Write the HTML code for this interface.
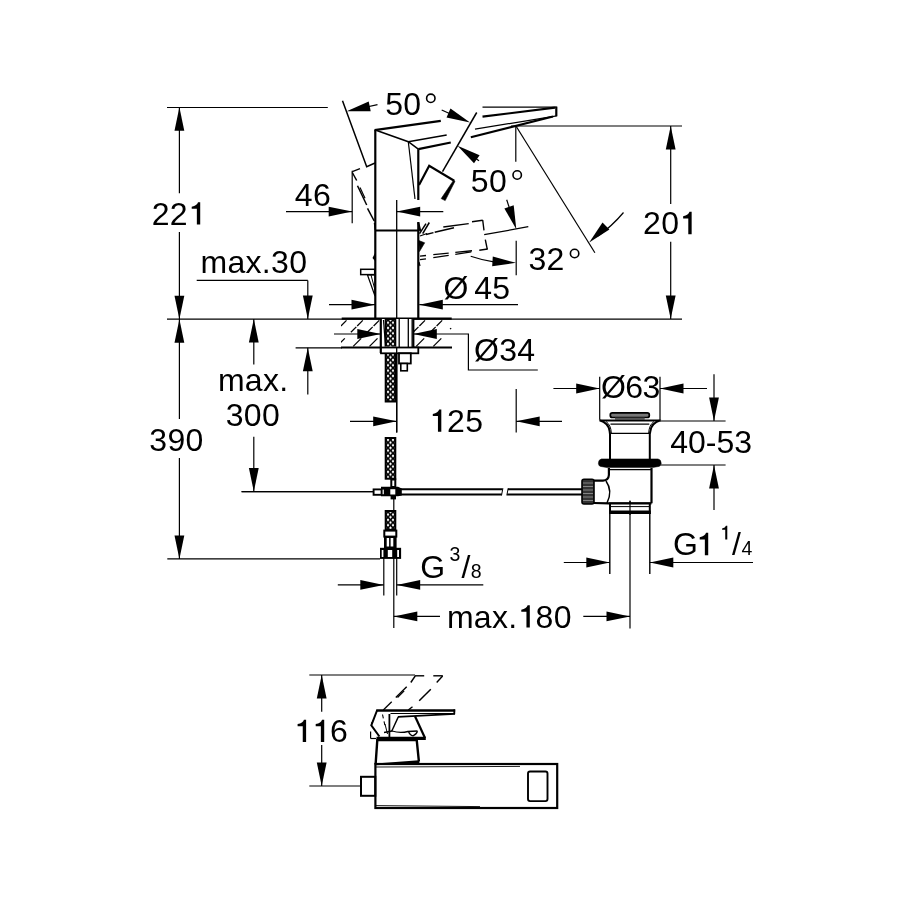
<!DOCTYPE html>
<html><head><meta charset="utf-8"><style>
html,body{margin:0;padding:0;background:#fff;}
svg{display:block;will-change:transform}
text{font-family:"Liberation Sans",sans-serif;fill:#000;stroke:none}
</style></head><body>
<svg width="900" height="900" viewBox="0 0 900 900" stroke="#000" fill="none" stroke-linecap="butt">
<rect width="900" height="900" fill="#fff" stroke="none"/>
<line x1="167.0" y1="107.5" x2="327.8" y2="107.5" stroke-width="1.2" />
<line x1="179.4" y1="107.5" x2="179.4" y2="193.3" stroke-width="1.2" />
<line x1="179.4" y1="232.0" x2="179.4" y2="418.9" stroke-width="1.2" />
<line x1="179.4" y1="458.0" x2="179.4" y2="558.9" stroke-width="1.2" />
<polygon points="179.4,107.3 184.3,130.8 174.5,130.8" fill="#000" stroke="none"/>
<polygon points="179.4,319.2 174.5,295.7 184.3,295.7" fill="#000" stroke="none"/>
<polygon points="179.4,319.2 184.3,342.7 174.5,342.7" fill="#000" stroke="none"/>
<polygon points="179.4,559.0 174.5,535.5 184.3,535.5" fill="#000" stroke="none"/>
<line x1="167.0" y1="319.2" x2="682.0" y2="319.2" stroke-width="1.2" />
<line x1="167.3" y1="558.9" x2="380.0" y2="558.9" stroke-width="1.2" />
<g class="t">
<text x="151.67" y="224.6" font-size="32" letter-spacing="0.3" >22</text>
<path d="M0.386,0 L0.386,-0.698 L0.318,-0.698 Q0.29,-0.59 0.12,-0.560 L0.12,-0.493 L0.281,-0.493 L0.281,0 Z" transform="translate(187.86,224.6) scale(32)" fill="#000" stroke="none"/>
</g>
<g class="t">
<text x="149.32" y="450.5" font-size="32" letter-spacing="0.3" >390</text>
</g>
<line x1="286.0" y1="211.6" x2="352.2" y2="211.6" stroke-width="1.2" />
<polygon points="352.2,211.6 328.7,216.5 328.7,206.7" fill="#000" stroke="none"/>
<line x1="352.2" y1="170.8" x2="352.2" y2="223.3" stroke-width="1.2" />
<polygon points="396.7,211.6 420.2,206.7 420.2,216.5" fill="#000" stroke="none"/>
<line x1="396.7" y1="211.6" x2="443.3" y2="211.6" stroke-width="1.2" />
<g class="t">
<text x="294.81" y="205.8" font-size="32" letter-spacing="0.3" >46</text>
</g>
<line x1="196.7" y1="280.4" x2="307.8" y2="280.4" stroke-width="1.2" />
<line x1="307.8" y1="280.4" x2="307.8" y2="318.9" stroke-width="1.2" />
<polygon points="307.8,318.9 302.9,295.4 312.7,295.4" fill="#000" stroke="none"/>
<polygon points="307.8,347.8 312.7,371.3 302.9,371.3" fill="#000" stroke="none"/>
<line x1="307.8" y1="347.8" x2="307.8" y2="394.4" stroke-width="1.2" />
<line x1="295.6" y1="347.8" x2="342.0" y2="347.8" stroke-width="1.2" />
<g class="t">
<text x="200.53" y="273.4" font-size="32" letter-spacing="0.3" >max.30</text>
</g>
<line x1="329.0" y1="304.7" x2="375.0" y2="304.7" stroke-width="1.2" />
<polygon points="375.0,304.7 351.5,309.6 351.5,299.8" fill="#000" stroke="none"/>
<polygon points="419.3,304.7 442.8,299.8 442.8,309.6" fill="#000" stroke="none"/>
<line x1="419.3" y1="304.7" x2="518.0" y2="304.7" stroke-width="1.2" />
<g class="t">
<text x="443.42" y="299.3" font-size="32" letter-spacing="0.3" >Ø</text>
</g>
<g class="t">
<text x="474.26" y="299.3" font-size="32" letter-spacing="0.3" >45</text>
</g>
<line x1="334.0" y1="334.0" x2="380.8" y2="334.0" stroke-width="1.2" />
<polygon points="380.8,334.0 357.3,338.9 357.3,329.1" fill="#000" stroke="none"/>
<polygon points="413.3,334.0 436.8,329.1 436.8,338.9" fill="#000" stroke="none"/>
<polyline points="413.3,334.0 468.4,334.0 468.4,370.0 537.8,370.0" stroke-width="1.2" fill="none" />
<g class="t">
<text x="473.98" y="361.3" font-size="32" letter-spacing="0.3" >Ø34</text>
</g>
<polygon points="253.8,318.9 258.7,342.4 248.9,342.4" fill="#000" stroke="none"/>
<line x1="253.8" y1="318.9" x2="253.8" y2="364.4" stroke-width="1.2" />
<line x1="253.8" y1="436.7" x2="253.8" y2="491.6" stroke-width="1.2" />
<polygon points="253.8,491.6 248.9,468.1 258.7,468.1" fill="#000" stroke="none"/>
<line x1="241.6" y1="491.6" x2="373.0" y2="491.6" stroke-width="1.2" />
<g class="t">
<text x="217.91" y="391.2" font-size="32" letter-spacing="0.3" >max.</text>
</g>
<g class="t">
<text x="225.71" y="425.8" font-size="32" letter-spacing="0.3" >300</text>
</g>
<line x1="350.0" y1="421.3" x2="396.7" y2="421.3" stroke-width="1.2" />
<polygon points="396.7,421.3 373.2,426.2 373.2,416.4" fill="#000" stroke="none"/>
<line x1="516.2" y1="389.0" x2="516.2" y2="432.5" stroke-width="1.2" />
<polygon points="516.2,421.3 539.7,416.4 539.7,426.2" fill="#000" stroke="none"/>
<line x1="516.2" y1="421.3" x2="562.0" y2="421.3" stroke-width="1.2" />
<g class="t">
<path d="M0.386,0 L0.386,-0.698 L0.318,-0.698 Q0.29,-0.59 0.12,-0.560 L0.12,-0.493 L0.281,-0.493 L0.281,0 Z" transform="translate(428.96,431.8) scale(32)" fill="#000" stroke="none"/>
<text x="447.06" y="431.8" font-size="32" letter-spacing="0.3" >25</text>
</g>
<line x1="383.8" y1="558.0" x2="383.8" y2="595.6" stroke-width="1.2" />
<line x1="396.7" y1="558.0" x2="396.7" y2="595.6" stroke-width="1.2" />
<line x1="337.8" y1="584.9" x2="383.8" y2="584.9" stroke-width="1.2" />
<polygon points="383.8,584.9 360.3,589.8 360.3,580.0" fill="#000" stroke="none"/>
<polygon points="396.7,584.9 420.2,580.0 420.2,589.8" fill="#000" stroke="none"/>
<line x1="396.7" y1="584.9" x2="483.3" y2="584.9" stroke-width="1.2" />
<g class="t">
<text x="420.35" y="577.6" font-size="32" letter-spacing="0.3" >G</text>
</g>
<g class="t">
<text x="449.52" y="561.3" font-size="19.5" letter-spacing="0.3" >3</text>
</g>
<g class="t">
<text x="461.48" y="577.6" font-size="32" letter-spacing="0.3" >/</text>
</g>
<g class="t">
<text x="470.68" y="577.6" font-size="19.5" letter-spacing="0.3" >8</text>
</g>
<line x1="393.8" y1="498.0" x2="393.8" y2="628.0" stroke-width="1.2" />
<line x1="630.0" y1="500.8" x2="630.0" y2="628.5" stroke-width="1.2" />
<polygon points="393.8,616.4 417.3,611.5 417.3,621.3" fill="#000" stroke="none"/>
<line x1="393.8" y1="616.4" x2="440.0" y2="616.4" stroke-width="1.2" />
<line x1="583.3" y1="616.4" x2="630.0" y2="616.4" stroke-width="1.2" />
<polygon points="630.0,616.4 606.5,621.3 606.5,611.5" fill="#000" stroke="none"/>
<g class="t">
<text x="446.91" y="627.6" font-size="32" letter-spacing="0.3" >max.</text>
<path d="M0.386,0 L0.386,-0.698 L0.318,-0.698 Q0.29,-0.59 0.12,-0.560 L0.12,-0.493 L0.281,-0.493 L0.281,0 Z" transform="translate(517.45,627.6) scale(32)" fill="#000" stroke="none"/>
<text x="535.55" y="627.6" font-size="32" letter-spacing="0.3" >80</text>
</g>
<line x1="599.7" y1="376.7" x2="599.7" y2="419.5" stroke-width="1.2" />
<line x1="660.0" y1="376.7" x2="660.0" y2="419.5" stroke-width="1.2" />
<line x1="553.4" y1="388.5" x2="599.7" y2="388.5" stroke-width="1.2" />
<polygon points="599.7,388.5 576.2,393.4 576.2,383.6" fill="#000" stroke="none"/>
<polygon points="660.0,388.5 683.5,383.6 683.5,393.4" fill="#000" stroke="none"/>
<line x1="660.0" y1="388.5" x2="707.0" y2="388.5" stroke-width="1.2" />
<g class="t">
<text x="600.92" y="397.7" font-size="32" letter-spacing="-0.5" >Ø63</text>
</g>
<line x1="714.0" y1="374.3" x2="714.0" y2="421.0" stroke-width="1.2" />
<polygon points="714.0,421.0 709.1,397.5 718.9,397.5" fill="#000" stroke="none"/>
<polygon points="714.0,465.0 718.9,488.5 709.1,488.5" fill="#000" stroke="none"/>
<line x1="714.0" y1="465.0" x2="714.0" y2="510.0" stroke-width="1.2" />
<line x1="660.0" y1="421.0" x2="725.6" y2="421.0" stroke-width="1.2" />
<line x1="661.0" y1="465.0" x2="725.6" y2="465.0" stroke-width="1.2" />
<g class="t">
<text x="670.26" y="452.9" font-size="32" letter-spacing="0" >40-53</text>
</g>
<line x1="609.8" y1="513.0" x2="609.8" y2="574.0" stroke-width="1.4" />
<line x1="649.8" y1="513.0" x2="649.8" y2="574.0" stroke-width="1.4" />
<line x1="563.8" y1="562.5" x2="609.8" y2="562.5" stroke-width="1.2" />
<polygon points="609.8,562.5 586.3,567.4 586.3,557.6" fill="#000" stroke="none"/>
<polygon points="649.8,562.5 673.3,557.6 673.3,567.4" fill="#000" stroke="none"/>
<line x1="649.8" y1="562.5" x2="753.0" y2="562.5" stroke-width="1.2" />
<g class="t">
<text x="673.04" y="555.2" font-size="32" letter-spacing="0.3" >G</text>
</g>
<g class="t">
<path d="M0.386,0 L0.386,-0.698 L0.318,-0.698 Q0.29,-0.59 0.12,-0.560 L0.12,-0.493 L0.281,-0.493 L0.281,0 Z" transform="translate(695.86,555.2) scale(32)" fill="#000" stroke="none"/>
</g>
<g class="t">
<path d="M0.386,0 L0.386,-0.698 L0.318,-0.698 Q0.29,-0.59 0.12,-0.560 L0.12,-0.493 L0.281,-0.493 L0.281,0 Z" transform="translate(719.76,539.4) scale(19.5)" fill="#000" stroke="none"/>
</g>
<g class="t">
<text x="732.00" y="555.2" font-size="32" letter-spacing="0.3" >/</text>
</g>
<g class="t">
<text x="741.53" y="555.2" font-size="19.5" letter-spacing="0.3" >4</text>
</g>
<line x1="511.0" y1="126.0" x2="682.0" y2="126.0" stroke-width="1.2" />
<line x1="670.7" y1="126.0" x2="670.7" y2="204.0" stroke-width="1.2" />
<line x1="670.7" y1="241.8" x2="670.7" y2="318.9" stroke-width="1.2" />
<polygon points="670.7,126.0 675.6,149.5 665.8,149.5" fill="#000" stroke="none"/>
<polygon points="670.7,318.9 665.8,295.4 675.6,295.4" fill="#000" stroke="none"/>
<g class="t">
<text x="643.11" y="234.2" font-size="32" letter-spacing="0.3" >20</text>
<path d="M0.386,0 L0.386,-0.698 L0.318,-0.698 Q0.29,-0.59 0.12,-0.560 L0.12,-0.493 L0.281,-0.493 L0.281,0 Z" transform="translate(679.30,234.2) scale(32)" fill="#000" stroke="none"/>
</g>
<line x1="515.8" y1="125.8" x2="515.8" y2="161.7" stroke-width="1.2" />
<line x1="515.8" y1="125.8" x2="594.9" y2="252.8" stroke-width="1.2" />
<path d="M623.5,212.5 A138,138 0 0 1 598,236" stroke-width="1.2" fill="none" />
<polygon points="589.2,242.5 602.5,222.5 609.4,229.5" fill="#000" stroke="none"/>
<line x1="516.2" y1="240.8" x2="516.2" y2="275.3" stroke-width="1.2" />
<path d="M470.7,256.3 A138,138 0 0 0 495,262.2" stroke-width="1.2" fill="none" />
<polygon points="516.0,262.8 492.2,266.3 492.8,256.5" fill="#000" stroke="none"/>
<g class="t">
<text x="528.43" y="269.6" font-size="32" letter-spacing="0.3" >32</text>
</g>
<circle cx="574.6" cy="253.5" r="4.2" fill="none" stroke-width="1.6"/>
<polyline points="342.5,100.8 366.7,166.7 375.0,163.0" stroke-width="1.5" fill="none" />
<polygon points="346.7,111.3 368.7,101.6 370.7,111.2" fill="#000" stroke="none"/>
<line x1="360.0" y1="108.5" x2="377.5" y2="104.7" stroke-width="1.2" />
<polygon points="470.0,122.5 446.5,117.5 450.5,108.5" fill="#000" stroke="none"/>
<line x1="441.7" y1="110.0" x2="455.0" y2="116.0" stroke-width="1.2" />
<line x1="476.7" y1="112.5" x2="442.5" y2="171.7" stroke-width="1.5" />
<g class="t">
<text x="385.20" y="115.2" font-size="32" letter-spacing="0.3" >50</text>
</g>
<circle cx="430.8" cy="98.3" r="4.2" fill="none" stroke-width="1.6"/>
<polygon points="457.5,145.8 479.6,155.2 474.0,163.3" fill="#000" stroke="none"/>
<line x1="479.0" y1="160.8" x2="470.0" y2="154.5" stroke-width="1.2" />
<polygon points="516.3,229.2 504.4,208.4 513.7,205.3" fill="#000" stroke="none"/>
<line x1="506.7" y1="199.7" x2="511.0" y2="213.0" stroke-width="1.2" />
<line x1="484.2" y1="234.7" x2="528.3" y2="226.7" stroke-width="1.2" />
<g class="t">
<text x="470.83" y="191.9" font-size="32" letter-spacing="0.3" >50</text>
</g>
<circle cx="517.2" cy="175" r="4.2" fill="none" stroke-width="1.6"/>
<line x1="309.3" y1="675.0" x2="415.0" y2="675.0" stroke-width="1.2" />
<line x1="321.7" y1="675.0" x2="321.7" y2="711.7" stroke-width="1.2" />
<line x1="321.7" y1="745.0" x2="321.7" y2="786.0" stroke-width="1.2" />
<polygon points="321.7,675.0 326.6,698.5 316.8,698.5" fill="#000" stroke="none"/>
<polygon points="321.7,786.0 316.8,762.5 326.6,762.5" fill="#000" stroke="none"/>
<line x1="309.3" y1="786.0" x2="360.7" y2="786.0" stroke-width="1.2" />
<g class="t">
<path d="M0.386,0 L0.386,-0.698 L0.318,-0.698 Q0.29,-0.59 0.12,-0.560 L0.12,-0.493 L0.281,-0.493 L0.281,0 Z" transform="translate(293.76,742.0) scale(32)" fill="#000" stroke="none"/>
<path d="M0.386,0 L0.386,-0.698 L0.318,-0.698 Q0.29,-0.59 0.12,-0.560 L0.12,-0.493 L0.281,-0.493 L0.281,0 Z" transform="translate(311.86,742.0) scale(32)" fill="#000" stroke="none"/>
<text x="329.95" y="742.0" font-size="32" letter-spacing="0.3" >6</text>
</g>
<line x1="375.3" y1="130.0" x2="375.3" y2="318.5" stroke-width="2.2" />
<line x1="374.5" y1="130.1" x2="440.8" y2="120.8" stroke-width="2.2" />
<polyline points="375.3,130.0 408.3,141.7 418.3,149.2" stroke-width="1.5" fill="none" />
<line x1="408.3" y1="141.7" x2="446.7" y2="135.0" stroke-width="1.5" />
<line x1="418.3" y1="149.2" x2="450.8" y2="142.5" stroke-width="2.2" />
<line x1="418.3" y1="149.2" x2="418.3" y2="200.0" stroke-width="2.2" />
<line x1="408.3" y1="141.7" x2="415.0" y2="199.0" stroke-width="1.2" />
<polyline points="419.0,185.0 429.2,165.8 454.2,180.8" stroke-width="2.2" fill="none" />
<polygon points="453.6,180.2 455,181.2 445.2,200.6 441.2,198.6" fill="#000" stroke="#000" stroke-width="0.6"/>
<line x1="375.3" y1="230.5" x2="418.3" y2="230.5" stroke-width="2.2" />
<line x1="418.3" y1="222.0" x2="418.3" y2="318.5" stroke-width="2.2" />
<line x1="396.7" y1="200.0" x2="396.7" y2="432.5" stroke-width="1.3" />
<rect x="360.7" y="269.3" width="14" height="5.3" fill="#fff" stroke-width="1.5"/>
<polygon points="367.5,275 375,275 375,296" fill="none" stroke-width="1.2"/>
<line x1="371.0" y1="275.0" x2="375.0" y2="290.0" stroke-width="1.0" />
<polygon points="375,253 372.5,258 375,261" fill="#000" stroke="none"/>
<line x1="418.3" y1="222.5" x2="420.3" y2="231.0" stroke-width="2.0" />
<line x1="429.3" y1="222.5" x2="422.7" y2="233.7" stroke-width="1.5" />
<line x1="426.0" y1="223.7" x2="419.5" y2="233.7" stroke-width="1.5" />
<line x1="420.0" y1="236.0" x2="427.0" y2="233.5" stroke-width="1.3" />
<polygon points="418.7,240.5 424.7,242.8 419.5,251.5" fill="#000" stroke="#000" stroke-width="0.6"/>
<line x1="419.0" y1="262.0" x2="420.0" y2="266.0" stroke-width="1.2" />
<line x1="482.5" y1="107.2" x2="556.7" y2="107.2" stroke-width="1.2" />
<line x1="482.5" y1="116.7" x2="555.0" y2="107.6" stroke-width="2.2" />
<line x1="556.3" y1="106.6" x2="556.3" y2="116.3" stroke-width="2.2" />
<line x1="475.0" y1="129.2" x2="556.7" y2="115.8" stroke-width="1.2" />
<line x1="470.8" y1="137.2" x2="553.0" y2="116.5" stroke-width="2.2" />
<line x1="426.0" y1="234.5" x2="433.5" y2="232.6" stroke-width="1.3" />
<line x1="434.7" y1="232.3" x2="454.0" y2="227.7" stroke-width="1.4" />
<line x1="443.3" y1="227.0" x2="468.7" y2="223.6" stroke-width="1.3" />
<line x1="472.0" y1="221.7" x2="482.7" y2="220.3" stroke-width="1.4" />
<line x1="482.7" y1="220.0" x2="484.0" y2="230.3" stroke-width="1.4" />
<line x1="485.3" y1="239.7" x2="487.3" y2="249.3" stroke-width="1.4" />
<line x1="487.6" y1="249.0" x2="479.3" y2="250.3" stroke-width="1.4" />
<line x1="420.0" y1="256.1" x2="426.0" y2="255.5" stroke-width="1.3" />
<line x1="433.3" y1="254.7" x2="448.7" y2="253.1" stroke-width="1.3" />
<line x1="455.3" y1="252.4" x2="472.0" y2="250.7" stroke-width="1.4" />
<line x1="420.0" y1="259.7" x2="426.0" y2="258.8" stroke-width="1.3" />
<line x1="433.3" y1="257.7" x2="448.7" y2="255.4" stroke-width="1.3" />
<line x1="455.3" y1="254.4" x2="471.3" y2="251.9" stroke-width="1.2" />
<line x1="352.3" y1="171.6" x2="360.0" y2="168.6" stroke-width="1.3" />
<line x1="352.3" y1="172.5" x2="356.7" y2="180.5" stroke-width="1.5" />
<line x1="357.5" y1="185.8" x2="366.7" y2="205.0" stroke-width="1.5" />
<line x1="360.0" y1="187.5" x2="365.0" y2="198.3" stroke-width="1.2" />
<line x1="367.5" y1="208.3" x2="374.2" y2="221.0" stroke-width="1.5" />
<line x1="374.4" y1="223.0" x2="375.2" y2="230.0" stroke-width="1.3" />
<line x1="341.7" y1="318.7" x2="451.7" y2="318.7" stroke-width="2.2" />
<line x1="341.0" y1="347.5" x2="452.0" y2="347.5" stroke-width="2.2" />
<rect x="381" y="319" width="32.3" height="28.5" fill="#fff" stroke="none"/>
<defs><clipPath id="sinkclip"><rect x="341" y="319" width="39.5" height="29"/><rect x="413.8" y="319" width="38.3" height="29"/></clipPath></defs>
<line x1="346.5" y1="320.4" x2="340.9" y2="326.0" stroke-width="1.25" clip-path="url(#sinkclip)"/>
<line x1="340.0" y1="326.9" x2="334.6" y2="332.3" stroke-width="1.25" clip-path="url(#sinkclip)"/>
<line x1="328.5" y1="338.4" x2="320.5" y2="346.4" stroke-width="1.25" clip-path="url(#sinkclip)"/>
<line x1="362.8" y1="320.4" x2="357.2" y2="326.0" stroke-width="1.25" clip-path="url(#sinkclip)"/>
<line x1="356.3" y1="326.9" x2="350.9" y2="332.3" stroke-width="1.25" clip-path="url(#sinkclip)"/>
<line x1="344.8" y1="338.4" x2="336.8" y2="346.4" stroke-width="1.25" clip-path="url(#sinkclip)"/>
<line x1="379.2" y1="320.4" x2="373.6" y2="326.0" stroke-width="1.25" clip-path="url(#sinkclip)"/>
<line x1="372.7" y1="326.9" x2="367.3" y2="332.3" stroke-width="1.25" clip-path="url(#sinkclip)"/>
<line x1="361.2" y1="338.4" x2="353.2" y2="346.4" stroke-width="1.25" clip-path="url(#sinkclip)"/>
<line x1="395.5" y1="320.4" x2="389.9" y2="326.0" stroke-width="1.25" clip-path="url(#sinkclip)"/>
<line x1="389.0" y1="326.9" x2="383.6" y2="332.3" stroke-width="1.25" clip-path="url(#sinkclip)"/>
<line x1="377.5" y1="338.4" x2="369.5" y2="346.4" stroke-width="1.25" clip-path="url(#sinkclip)"/>
<line x1="425.0" y1="320.4" x2="419.4" y2="326.0" stroke-width="1.25" clip-path="url(#sinkclip)"/>
<line x1="418.5" y1="326.9" x2="413.1" y2="332.3" stroke-width="1.25" clip-path="url(#sinkclip)"/>
<line x1="407.0" y1="338.4" x2="399.0" y2="346.4" stroke-width="1.25" clip-path="url(#sinkclip)"/>
<line x1="442.2" y1="320.4" x2="436.6" y2="326.0" stroke-width="1.25" clip-path="url(#sinkclip)"/>
<line x1="435.7" y1="326.9" x2="430.3" y2="332.3" stroke-width="1.25" clip-path="url(#sinkclip)"/>
<line x1="424.2" y1="338.4" x2="416.2" y2="346.4" stroke-width="1.25" clip-path="url(#sinkclip)"/>
<line x1="441.3" y1="338.4" x2="433.3" y2="346.4" stroke-width="1.25" clip-path="url(#sinkclip)"/>
<line x1="450.0" y1="329.0" x2="451.2" y2="328.2" stroke-width="1.2" />
<line x1="380.8" y1="318.7" x2="380.8" y2="353.0" stroke-width="2.2" />
<line x1="413.3" y1="318.7" x2="413.3" y2="347.5" stroke-width="2.2" />
<defs><pattern id="xh" width="5" height="5.33" patternUnits="userSpaceOnUse" patternTransform="translate(388 439.9)"><rect width="5" height="5.33" fill="#000"/><path d="M-1.4,0L0,-1.6L1.4,0L0,1.6ZM3.6,0L5,-1.6L6.4,0L5,1.6ZM-1.4,5.33L0,3.73L1.4,5.33L0,6.93ZM3.6,5.33L5,3.73L6.4,5.33L5,6.93ZM1.1,2.665L2.5,1.065L3.9,2.665L2.5,4.265Z" fill="#fff" stroke="none"/></pattern></defs>
<rect x="385.7" y="319" width="9.600000000000023" height="82.5" fill="url(#xh)" stroke-width="2"/>
<rect x="385" y="346.6" width="11.5" height="7.3" fill="#fff" stroke="none"/>
<line x1="383.5" y1="320.0" x2="385.5" y2="346.0" stroke-width="1.2" />
<line x1="399.2" y1="319.0" x2="399.2" y2="347.0" stroke-width="1.3" />
<line x1="408.3" y1="319.0" x2="408.3" y2="347.0" stroke-width="1.3" />
<line x1="412.0" y1="319.0" x2="412.0" y2="347.0" stroke-width="1.0" />
<rect x="381" y="347.5" width="37.3" height="5.8" fill="#fff" stroke-width="1.8"/>
<rect x="399" y="353.3" width="11.8" height="10.2" fill="#fff" stroke-width="1.8"/>
<rect x="400.8" y="363.5" width="6.5" height="7.3" fill="#fff" stroke-width="1.6"/>
<line x1="396.7" y1="347.0" x2="396.7" y2="432.5" stroke-width="1.3" />
<rect x="385.7" y="438" width="9.600000000000023" height="40.69999999999999" fill="url(#xh)" stroke-width="2"/>
<rect x="391.3" y="479.5" width="4" height="7.5" fill="#fff" stroke-width="2"/>
<line x1="399.0" y1="489.2" x2="502.6" y2="489.2" stroke-width="1.9" />
<line x1="399.0" y1="494.5" x2="501.8" y2="494.5" stroke-width="1.9" />
<line x1="507.9" y1="489.2" x2="583.0" y2="489.2" stroke-width="1.9" />
<line x1="507.1" y1="494.5" x2="583.0" y2="494.5" stroke-width="1.9" />
<line x1="502.9" y1="488.3" x2="501.5" y2="495.4" stroke-width="1.0" />
<line x1="508.2" y1="488.3" x2="506.8" y2="495.4" stroke-width="1.0" />
<line x1="241.6" y1="491.6" x2="373.0" y2="491.6" stroke-width="1.2" />
<rect x="373.6" y="489.4" width="8" height="5.4" fill="#fff" stroke-width="1.9"/>
<polygon points="381,486.7 398,486.7 401.8,488.4 401.8,495.4 398,496.3 381,496.3" fill="#000" stroke="none"/>
<rect x="390.3" y="489.2" width="5" height="5.3" fill="#fff" stroke="none"/>
<rect x="382.6" y="489.6" width="1.2" height="4.6" fill="#fff" stroke="none"/>
<rect x="390.6" y="496" width="5.4" height="3.4" fill="#000" stroke="none"/>
<rect x="385.7" y="511" width="9.600000000000023" height="19" fill="url(#xh)" stroke-width="2"/>
<rect x="384.3" y="530.6" width="12" height="6" fill="#fff" stroke-width="2"/>
<rect x="384" y="536.6" width="12.6" height="11.6" fill="#000" stroke="none"/>
<rect x="386.7" y="538" width="2.4" height="8.5" fill="#fff" stroke="none"/>
<rect x="390.6" y="538" width="2.7" height="8.5" fill="#fff" stroke="none"/>
<rect x="380" y="547.8" width="21.1" height="11.1" fill="#000" stroke="none"/>
<rect x="381.7" y="550" width="1.7" height="7" fill="#fff" stroke="none"/>
<rect x="387.8" y="550" width="4.4" height="7" fill="#fff" stroke="none"/>
<rect x="397.2" y="550" width="1.8" height="7" fill="#fff" stroke="none"/>
<rect x="610.3" y="412.9" width="39" height="4.6" rx="2" fill="#777" stroke-width="1.7"/>
<rect x="615" y="417.6" width="29.7" height="2" fill="#555" stroke="none"/>
<polygon points="598.7,419.6 661.3,419.6 659,421.4 601,421.4" fill="#000" stroke="none"/>
<path d="M599.5,420.3 Q608.5,423 609.6,431 L610,434 L610,459" stroke-width="2.0" fill="none" />
<path d="M660.5,420.3 Q651.5,423 650.4,431 L649.8,434 L649.8,459" stroke-width="2.0" fill="none" />
<path d="M606,421.5 Q611,425 611.3,433" stroke-width="1.0" fill="none" />
<path d="M654,421.5 Q649,425 648.7,433" stroke-width="1.0" fill="none" />
<line x1="610.5" y1="424.1" x2="649.3" y2="424.1" stroke-width="1.3" />
<line x1="610.5" y1="433.4" x2="649.3" y2="433.4" stroke-width="1.4" />
<path d="M601.5,458.9 L658,458.9 Q661.3,459.5 661.2,463.5 Q661,466 659,466.4 L652.5,467.6 L607,467.6 L600.5,466.4 Q598.5,466 598.4,463.5 Q598.3,459.5 601.5,458.9 Z" stroke-width="0.5" fill="#000" />
<path d="M608.9,468 L608.9,475 Q608.5,480.4 603,480.6 L594,480.6" stroke-width="2.2" fill="none" />
<line x1="651.5" y1="468.0" x2="651.5" y2="503.3" stroke-width="2.2" />
<line x1="608.9" y1="469.6" x2="651.3" y2="469.6" stroke-width="1.3" />
<path d="M594,503 L609,503.3 L651.5,503.3" stroke-width="2.2" fill="none" />
<path d="M606,481 Q613,491 607,503" stroke-width="1.5" fill="none" />
<rect x="582" y="479.3" width="12" height="24.7" rx="2" fill="#333" stroke-width="1.6"/>
<line x1="583.0" y1="483.0" x2="593.0" y2="483.0" stroke-width="0.8" stroke="#999"/>
<line x1="583.0" y1="486.5" x2="593.0" y2="486.5" stroke-width="0.8" stroke="#999"/>
<line x1="583.0" y1="490.0" x2="593.0" y2="490.0" stroke-width="0.8" stroke="#999"/>
<line x1="583.0" y1="493.5" x2="593.0" y2="493.5" stroke-width="0.8" stroke="#999"/>
<line x1="583.0" y1="497.0" x2="593.0" y2="497.0" stroke-width="0.8" stroke="#999"/>
<line x1="583.0" y1="500.5" x2="593.0" y2="500.5" stroke-width="0.8" stroke="#999"/>
<rect x="610" y="503.5" width="39.8" height="9.5" fill="#fff" stroke-width="2"/>
<line x1="610.0" y1="506.6" x2="650.0" y2="506.6" stroke-width="1.0" />
<rect x="609" y="510.5" width="41.8" height="3.5" fill="#000" stroke="none"/>
<line x1="630.0" y1="500.8" x2="630.0" y2="515.0" stroke-width="1.2" />
<rect x="375.4" y="764.0" width="181.8" height="44" fill="none" stroke-width="2.2"/>
<line x1="376.0" y1="767.0" x2="520.0" y2="766.4" stroke-width="0.9" />
<line x1="376.0" y1="805.6" x2="480.0" y2="806.6" stroke-width="0.9" />
<rect x="528" y="771.5" width="19.5" height="29.6" rx="2" fill="none" stroke-width="1.9"/>
<rect x="361" y="776.8" width="14.3" height="19" fill="none" stroke-width="2"/>
<polyline points="375.6,764.5 377.3,740.0 416.7,740.0 418.9,761.5" stroke-width="2.4" fill="none" />
<polygon points="375.5,765.3 375.5,763.4 418.9,760.2 419.5,763 " fill="#000" stroke="none"/>
<line x1="376.3" y1="710.5" x2="455.2" y2="710.5" stroke-width="2.3" />
<line x1="454.3" y1="709.4" x2="454.3" y2="714.2" stroke-width="1.8" />
<line x1="390.5" y1="713.5" x2="455.0" y2="713.5" stroke-width="1.1" />
<line x1="455.0" y1="713.9" x2="398.0" y2="716.9" stroke-width="1.7" />
<polyline points="377.2,710.0 371.3,725.3 379.4,736.5" stroke-width="2.0" fill="none" />
<line x1="415.0" y1="716.3" x2="425.0" y2="738.0" stroke-width="2.2" />
<line x1="376.5" y1="738.4" x2="425.8" y2="738.4" stroke-width="3.4" />
<line x1="389.4" y1="714.0" x2="389.4" y2="737.0" stroke-width="1.8" />
<line x1="398.3" y1="716.9" x2="391.7" y2="731.3" stroke-width="1.4" />
<path d="M384,732.5 L392,731 Q400,733.5 408,731.5 L417.5,731" stroke-width="1.3" fill="none" />
<path d="M408.5,731.5 Q410,735.5 413,735.8 Q416.5,734.5 417.5,731.3" stroke-width="1.3" fill="none" />
<line x1="382.5" y1="714.5" x2="385.5" y2="728.0" stroke-width="1.1" stroke-dasharray="4 3"/>
<line x1="385.0" y1="724.0" x2="387.5" y2="734.0" stroke-width="1.0" />
<line x1="415.0" y1="675.8" x2="424.2" y2="675.8" stroke-width="1.4" />
<line x1="433.3" y1="675.8" x2="442.8" y2="675.8" stroke-width="1.4" />
<line x1="415.2" y1="676.0" x2="410.8" y2="682.5" stroke-width="1.4" />
<line x1="406.7" y1="686.7" x2="395.8" y2="697.5" stroke-width="1.4" />
<line x1="404.2" y1="690.8" x2="397.5" y2="697.5" stroke-width="1.2" />
<line x1="391.7" y1="701.7" x2="383.3" y2="710.0" stroke-width="1.3" />
<line x1="442.6" y1="676.0" x2="436.7" y2="682.5" stroke-width="1.4" />
<line x1="430.8" y1="689.2" x2="419.2" y2="700.8" stroke-width="1.5" />
<line x1="412.5" y1="706.7" x2="408.3" y2="710.0" stroke-width="1.4" />
<line x1="370.6" y1="731.5" x2="370.6" y2="738.5" stroke-width="1.2" />
<line x1="370.6" y1="738.5" x2="376.0" y2="738.5" stroke-width="1.2" />
<path d="M371.5,726 Q371,722 374,719" stroke-width="1.0" fill="none" stroke-dasharray="4 2"/>
</svg></body></html>
